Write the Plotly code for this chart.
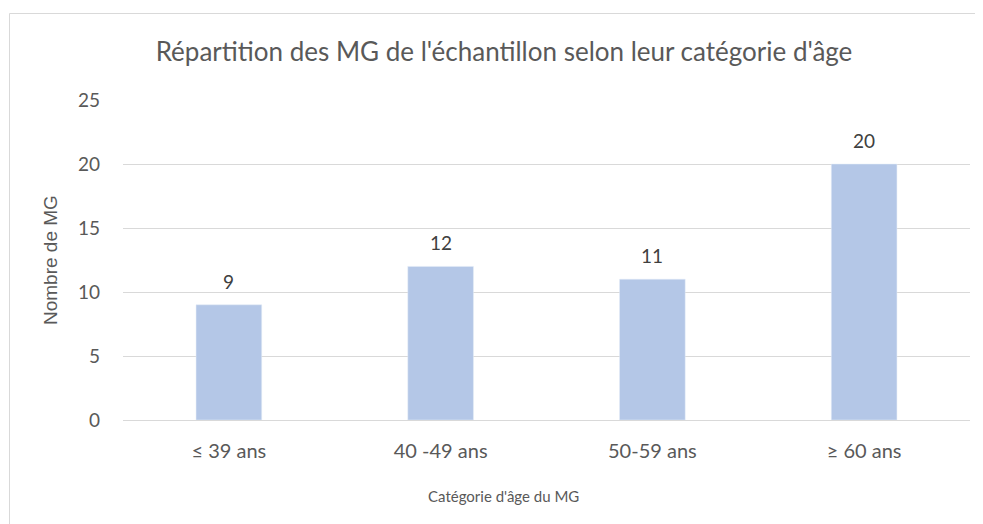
import plotly.graph_objects as go

categories = ["≤ 39 ans", "40 -49 ans", "50-59 ans", "≥ 60 ans"]
values = [9, 12, 11, 20]

W, H = 975, 516
L, R, T, B = 115, 13, 92, 104
pw, ph = W - L - R, H - T - B
font = "Lato, Open Sans, sans-serif"
grey = "#595959"

fig = go.Figure(go.Bar(
    x=categories, y=values, marker_color="#b4c7e7", width=0.31,
))

for c, v in zip(categories, values):
    fig.add_annotation(x=c, y=v, text=str(v), showarrow=False, yanchor="bottom",
                       yshift=10, font=dict(size=19, color="#404040", family=font))

# axis titles as annotations placed in paper coordinates
fig.add_annotation(xref="paper", yref="paper", x=(495 - L) / pw, y=-(488 - T - ph) / ph,
                   text="Catégorie d'âge du MG", showarrow=False, xanchor="center", yanchor="middle",
                   font=dict(size=15, color=grey, family=font))
fig.add_annotation(xref="paper", yref="paper", x=(42 - L) / pw, y=0.5,
                   text="Nombre de MG", showarrow=False, textangle=-90, xanchor="center", yanchor="middle",
                   font=dict(size=19, color=grey, family="Liberation Sans, Arial, sans-serif"))

fig.update_layout(
    width=W, height=H,
    margin=dict(l=L, r=R, t=T, b=B),
    plot_bgcolor="white", paper_bgcolor="white",
    showlegend=False,
    title=dict(text="Répartition des MG de l'échantillon selon leur catégorie d'âge",
               x=496 / W, xanchor="center", y=1 - 44 / H, yanchor="middle",
               font=dict(size=26, color=grey, family=font)),
    xaxis=dict(tickfont=dict(size=20, color=grey, family=font), showline=True, linecolor="#d9d9d9",
               linewidth=1, ticks="", ticklabelstandoff=13),
    yaxis=dict(range=[0, 25], dtick=5, tickfont=dict(size=19, color=grey, family=font),
               gridcolor="#d9d9d9", zeroline=False, ticks="", ticklabelstandoff=22),
    shapes=[dict(type="rect", xref="paper", yref="paper",
                 x0=(1.5 - L) / pw, x1=(W + 20 - L) / pw,
                 y0=-(H + 20 - T - ph) / ph, y1=1 + (T - 5.5) / ph,
                 line=dict(color="#d9d9d9", width=1), layer="below")],
)

fig.write_html("out.html")
